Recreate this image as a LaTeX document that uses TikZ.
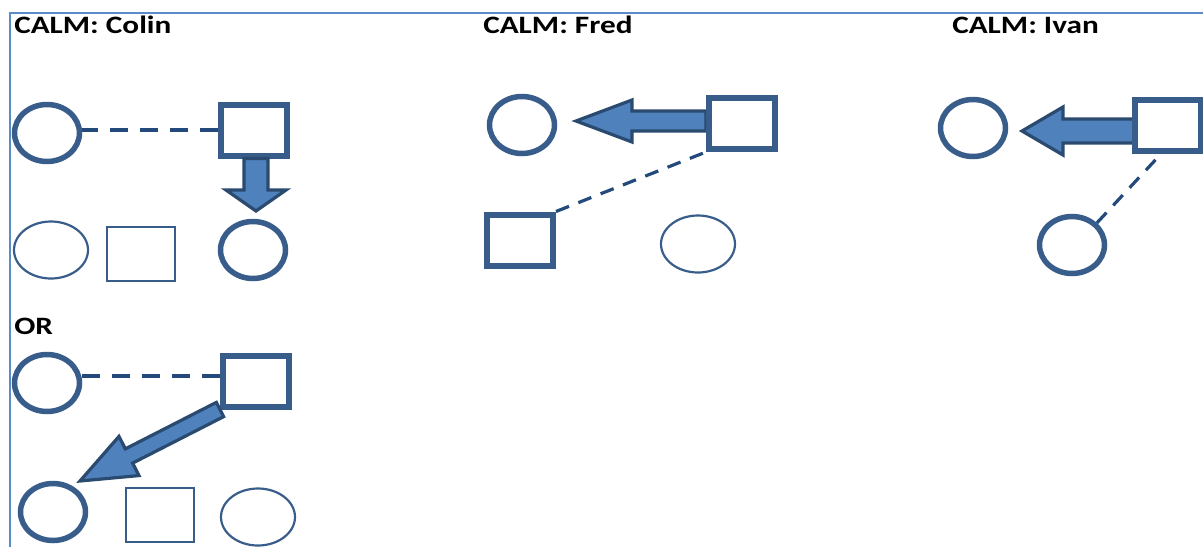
\documentclass[tikz,border=0pt]{standalone}
\usepackage{fontspec}
\setmainfont{Carlito}
\usepackage{tikz}
\usetikzlibrary{shapes.geometric}
\usetikzlibrary{calc}
\definecolor{shapeblue}{HTML}{385D8A}
\definecolor{arrowfill}{HTML}{4F81BD}
\definecolor{arrowline}{HTML}{2A4A70}
\definecolor{dashblue}{HTML}{244A7C}
\definecolor{framblue}{HTML}{5B8BC8}
\tikzset{
  bigcirc/.style = {ellipse, draw=shapeblue, line width=5.5pt, fill=white,
    minimum width=65pt, minimum height=57pt, inner sep=0pt},
  bigsq/.style = {rectangle, draw=shapeblue, line width=6pt, fill=white,
    minimum width=66pt, minimum height=51pt, inner sep=0pt},
  thincirc/.style = {ellipse, draw=shapeblue, line width=2.2pt,
    minimum width=74pt, minimum height=57pt, inner sep=0pt},
  thinsq/.style = {rectangle, draw=shapeblue, line width=2.2pt,
    minimum width=68pt, minimum height=54pt, inner sep=0pt},
  tieline/.style = {draw=dashblue, line width=4pt, dash pattern=on 18pt off 12pt},
  thintie/.style = {draw=dashblue, line width=3.2pt, dash pattern=on 14pt off 10pt},
  arrowbody/.style = {draw=arrowline, fill=arrowfill, line width=3.2pt},
  heading/.style = {anchor=base west, inner sep=0pt, font=\bfseries\fontsize{25}{28}\selectfont,
    xscale=1.25},
}
% block arrow: name, tail, tip, shaft half width, head half width, head length
\newcommand{\blockarrow}[6]{%
  \coordinate (#1h) at ($(#3)!#6!(#2)$);
  \draw[arrowbody] ($(#2)!#4!90:(#3)$) -- ($(#1h)!#4!90:(#3)$)
    -- ($(#1h)!#5!90:(#3)$) -- (#3) -- ($(#1h)!#5!-90:(#3)$)
    -- ($(#1h)!#4!-90:(#3)$) -- ($(#2)!#4!-90:(#3)$) -- cycle;
}

\begin{document}
\begin{tikzpicture}[x=1pt,y=-1pt]
  \useasboundingbox (0,0) rectangle (1203,547);
  \draw[framblue, line width=1.5pt] (10,547) -- (10,13) -- (1203,13);

  % Colin
  \node[heading] (tColin) at (14,33) {CALM: Colin};
  \node[bigcirc] (cA) at (47,133) {};
  \node[bigsq] (sA) at (254,130) {};
  \node[thincirc] (cB) at (51,250) {};
  \node[thinsq] (sB) at (141,254) {};
  \node[bigcirc] (cC) at (253,250) {};
  \coordinate (tipA) at (256,211);
  \draw[tieline] (sA.west) -- (sA.west -| cA.east);
  \blockarrow{aA}{sA.south -| tipA}{tipA}{12pt}{30pt}{21pt}

  % OR
  \node[heading] (tOr) at (14,334) {OR};
  \node[bigcirc] (cD) at (47,383) {};
  \node[bigsq] (sD) at (256,381) {};
  \node[bigcirc] (cE) at (53,512) {};
  \node[thinsq] (sE) at (160,515) {};
  \node[thincirc] (cF) at (258,517) {};
  \coordinate (tipD) at (80,481);
  \draw[tieline] (cD.east |- 0,376) -- (sD.west |- 0,376);
  \blockarrow{aD}{sD.south west}{tipD}{8pt}{22pt}{55pt}

  % Fred
  \node[heading] (tFred) at (483,33) {CALM: Fred};
  \node[bigcirc] (cG) at (522,125) {};
  \node[thincirc] (cH) at (698,244) {};
  \node[bigsq] (sH) at (520,240) {};
  \coordinate (tipG) at (576,121);
  \draw[thintie] (sH.north east) -- (706,152);
  \blockarrow{aG}{706,121}{tipG}{10pt}{21pt}{56pt}
  \node[bigsq] (sG) at (742,123) {};

  % Ivan
  \node[heading] (tIvan) at (952,33) {CALM: Ivan};
  \node[bigcirc] (cI) at (973,128) {};
  \node[bigcirc] (cJ) at (1072,245) {};
  \coordinate (tipI) at (1022,131);
  \draw[thintie] (cJ.north east) -- (1160,155);
  \blockarrow{aI}{1134,131}{tipI}{12pt}{24pt}{41pt}
  \node[bigsq] (sI) at (1168,125) {};
\end{tikzpicture}
\end{document}
